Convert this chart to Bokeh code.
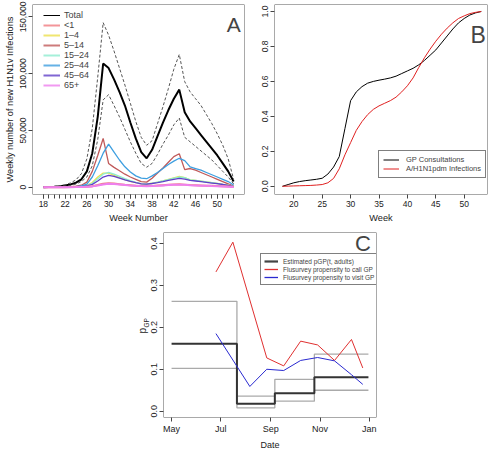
import math
import pandas as pd
from bokeh.plotting import figure
from bokeh.layouts import column, row, Spacer
from bokeh.models import (FixedTicker, NumeralTickFormatter, Legend, LegendItem, Label,
                          Range1d, DatetimeTickFormatter, BoxAnnotation, Title)
from bokeh.embed import file_html
from bokeh.resources import INLINE

FONT = "Liberation Sans"
NAN = float("nan")

# ---------------- Panel A data ----------------
weeks = list(range(18, 54))
total = [0, 200, 500, 900, 1500, 2500, 4000, 7000, 14000, 30000, 62000, 109000,
         105000, 95000, 84000, 72000, 57000, 43000, 31000, 25500, 33000, 45000,
         57000, 68000, 78000, 86000, 66000, 58000, 52000, 46000, 40000, 34000,
         28000, 21000, 14000, 5000]
upper = [0, 300, 700, 1300, 2200, 3800, 6500, 12000, 25000, 52000, 97000, 145000,
         134000, 120000, 105000, 90000, 74000, 58000, 44000, 37000, 41000, 56000,
         71000, 87000, 104000, 117000, 93000, 84000, 78000, 72000, 64000, 56000,
         47000, 37000, 25000, 7000]
lower = [0, 150, 350, 600, 1000, 1700, 2800, 5000, 9000, 19000, 42000, 77000,
         81500, 72000, 62000, 51000, 40000, 30000, 21000, 17600, 21000, 29000,
         38000, 46000, 55000, 61000, 44000, 40000, 36000, 32000, 28000, 24000,
         19000, 14000, 9000, 3000]
age_lt1 = [0, 10, 20, 40, 60, 100, 160, 250, 450, 900, 1900, 3000, 3600, 3200,
           2700, 2200, 1800, 1400, 1100, 1000, 1200, 1500, 1800, 2100, 2400, 2600,
           2300, 2000, 1800, 1600, 1400, 1200, 1000, 800, 550, 200]
age_1_4 = [0, 20, 40, 70, 120, 200, 350, 700, 1600, 4200, 9000, 12500, 12500, 10500,
           8500, 6800, 5200, 4000, 3000, 2800, 3500, 4500, 5600, 7000, 8300, 9500,
           8500, 6500, 6000, 5300, 4600, 4000, 3300, 2500, 1800, 600]
age_5_14 = [0, 50, 100, 200, 300, 500, 900, 1800, 4500, 14000, 28000, 43000, 21000,
            17500, 14500, 11500, 9000, 7000, 5000, 4500, 8000, 12500, 17000, 22000,
            27000, 29500, 15500, 16500, 15000, 13000, 11000, 9000, 7000, 5000, 3000, 1000]
age_15_24 = [0, 20, 40, 70, 120, 200, 350, 700, 1500, 3500, 7500, 11500, 13000, 11500,
             9500, 7500, 5800, 4300, 3200, 2800, 3500, 4500, 5500, 6800, 8000, 9000,
             8500, 6500, 6000, 5300, 4600, 4000, 3300, 2500, 1800, 600]
age_25_44 = [0, 30, 60, 100, 200, 350, 600, 1200, 2800, 9000, 19000, 30000, 38000,
             31000, 24000, 18000, 13500, 10000, 8000, 7500, 10000, 13000, 16500, 20000,
             23000, 25500, 23500, 18000, 16500, 15000, 13000, 11000, 9000, 7000, 5000, 2000]
age_45_64 = [0, 20, 40, 60, 100, 170, 300, 550, 1100, 2500, 5500, 9000, 10500, 9500,
             8000, 6500, 5200, 4000, 3000, 2700, 3300, 4100, 5000, 6000, 7000, 7800,
             7200, 6000, 5500, 4900, 4300, 3700, 3100, 2400, 1700, 600]
age_65 = [0, 10, 20, 30, 50, 80, 130, 200, 380, 750, 1500, 2500, 3000, 2800,
          2400, 2000, 1600, 1300, 1000, 900, 1100, 1300, 1600, 1900, 2100, 2300,
          2100, 1800, 1600, 1400, 1200, 1000, 850, 650, 450, 150]
age_labels = ["<1", "1–4", "5–14", "15–24", "25–44", "45–64", "65+"]
age_colors = ["#f07a80", "#ece04c", "#c05a5a", "#8eecd0", "#3e9fe0", "#6040c8", "#ee80ee"]
age_series = [age_lt1, age_1_4, age_5_14, age_15_24, age_25_44, age_45_64, age_65]
a_xticks = [18, 22, 26, 30, 34, 38, 42, 46, 50]
a_yticks = [0, 50000, 100000, 150000]

# ---------------- Panel B data ----------------
gp_cum = [0.0, 0.01, 0.02, 0.027, 0.032, 0.036, 0.04, 0.046, 0.07, 0.11, 0.17, 0.33,
          0.49, 0.54, 0.57, 0.59, 0.60, 0.607, 0.613, 0.62, 0.63, 0.645, 0.66, 0.675,
          0.695, 0.72, 0.75, 0.78, 0.82, 0.86, 0.90, 0.935, 0.96, 0.98, 0.992, 1.0]
inf_cum = [0.0, 0.001, 0.002, 0.003, 0.004, 0.005, 0.007, 0.01, 0.02, 0.045, 0.1, 0.18,
           0.25, 0.32, 0.37, 0.41, 0.44, 0.46, 0.475, 0.49, 0.51, 0.54, 0.575, 0.62,
           0.68, 0.735, 0.785, 0.83, 0.87, 0.905, 0.935, 0.96, 0.975, 0.988, 0.995, 1.0]
b_xticks = [20, 25, 30, 35, 40, 45, 50]
b_yticks = [0.0, 0.2, 0.4, 0.6, 0.8, 1.0]

# ---------------- Panel C data ----------------
step_dates = ["2009-05-01", "2009-07-21", "2009-09-06", "2009-10-25", "2009-12-31"]
pgp_est = [0.161, 0.018, 0.043, 0.081, 0.081]
pgp_upper = [0.262, 0.036, 0.076, 0.136, 0.136]
pgp_lower = [0.102, 0.008, 0.024, 0.050, 0.050]
call_dates = ["2009-06-25", "2009-07-16", "2009-08-27", "2009-09-17", "2009-10-08",
              "2009-10-29", "2009-11-19", "2009-12-10", "2009-12-24"]
call_gp = [0.332, 0.403, 0.127, 0.108, 0.167, 0.158, 0.121, 0.171, 0.103]
visit_dates = ["2009-06-25", "2009-07-16", "2009-08-06", "2009-08-27", "2009-09-17",
               "2009-10-08", "2009-10-29", "2009-11-19", "2009-12-10", "2009-12-24"]
visit_gp = [0.185, 0.122, 0.059, 0.100, 0.097, 0.121, 0.128, 0.120, 0.087, 0.064]
c_xticks = ["2009-05-01", "2009-07-01", "2009-09-01", "2009-11-01", "2010-01-01"]
c_yticks = [0.0, 0.1, 0.2, 0.3, 0.4]


def ms(s):
    return (pd.Timestamp(s) - pd.Timestamp("1970-01-01")).total_seconds() * 1000.0


def style(p, tick_size="8.5px", label_size="9.2px"):
    p.outline_line_color = None
    p.add_layout(BoxAnnotation(fill_alpha=0, line_color="#555555", line_width=1,
                               line_alpha=1))
    p.xgrid.visible = False
    p.ygrid.visible = False
    p.background_fill_color = "white"
    p.border_fill_color = "white"
    for ax in p.axis:
        ax.axis_line_color = None
        ax.major_tick_line_color = "#444444"
        ax.major_tick_out = 4
        ax.major_tick_in = 0
        ax.minor_tick_line_color = None
        ax.major_label_text_font = FONT
        ax.major_label_text_font_size = tick_size
        ax.major_label_text_color = "#222222"
        ax.axis_label_text_font = FONT
        ax.axis_label_text_font_size = label_size
        ax.axis_label_text_font_style = "normal"
        ax.axis_label_text_color = "#222222"
        ax.major_label_standoff = 2
        ax.axis_label_standoff = 3
    for ax in p.yaxis:
        ax.major_label_orientation = "vertical"


# ---------------- Panel A ----------------
pA = figure(width=258, height=226, output_backend="svg", toolbar_location=None,
            x_range=Range1d(16, 55), y_range=Range1d(-6400, 161000),
            min_border_left=32, min_border_right=14, min_border_top=4, min_border_bottom=32)
pA.line(weeks, total, line_color="black", line_width=2)
pA.line(weeks, upper, line_color="#555555", line_width=1, line_dash="3 2")
pA.line(weeks, lower, line_color="#555555", line_width=1, line_dash="3 2")
order = [2, 1, 3, 4, 5, 0, 6]
for i in order:
    w = 2 if i in (0, 6) else 1.3
    pA.line(weeks, age_series[i], line_color=age_colors[i], line_width=w)
# legend keys (renderers holding no visible data)
items = [LegendItem(label="Total",
                    renderers=[pA.line([NAN, NAN], [NAN, NAN], line_color="black",
                                       line_width=1)])]
for i in range(7):
    items.append(LegendItem(label=age_labels[i],
                            renderers=[pA.line([NAN, NAN], [NAN, NAN],
                                               line_color=age_colors[i],
                                               line_width=2, line_alpha=0.8)]))
style(pA)
pA.xaxis.ticker = FixedTicker(ticks=a_xticks, minor_ticks=weeks)
pA.xaxis.minor_tick_line_color = "#444444"
pA.xaxis.minor_tick_out = 4
pA.xaxis.minor_tick_in = 0
pA.yaxis.ticker = FixedTicker(ticks=a_yticks)
pA.yaxis.formatter = NumeralTickFormatter(format="0,0")
pA.xaxis.axis_label = "Week Number"
pA.yaxis.axis_label = "Weekly number of new H1N1v Infections"
legA = Legend(items=items, location=(11, 104), padding=0, margin=0, spacing=0,
              glyph_height=10, label_height=10, glyph_width=17, label_standoff=4,
              label_text_font=FONT, label_text_font_size="9px",
              border_line_alpha=0, background_fill_alpha=0)
pA.add_layout(legA)
pA.add_layout(Label(x=54.33, y=143000, text="A", text_align="right",
                    text_baseline="alphabetic", text_font=FONT, text_font_size="21px"))

# ---------------- Panel B ----------------
pB = figure(width=232, height=226, output_backend="svg", toolbar_location=None,
            x_range=Range1d(16.6, 54.1), y_range=Range1d(-0.047, 1.04),
            min_border_left=16, min_border_right=3, min_border_top=4, min_border_bottom=30)
rg = pB.line(weeks, gp_cum, line_color="black", line_width=1)
ri = pB.line(weeks, inf_cum, line_color="#e02020", line_width=1)
style(pB)
pB.xaxis.ticker = FixedTicker(ticks=b_xticks)
pB.yaxis.ticker = FixedTicker(ticks=b_yticks)
pB.yaxis.formatter = NumeralTickFormatter(format="0.0")
pB.xaxis.axis_label = "Week"
legB = Legend(items=[LegendItem(label="GP Consultations", renderers=[rg]),
                     LegendItem(label="A/H1N1pdm Infections", renderers=[ri])],
              location=(104, 16), padding=4, margin=0, spacing=0,
              glyph_height=9, label_height=9, glyph_width=16, label_standoff=7,
              label_text_font=FONT, label_text_font_size="7.5px",
              border_line_color="black", border_line_width=1, background_fill_alpha=1)
pB.add_layout(legB)
pB.add_layout(Label(x=53.8, y=0.864, text="B", text_align="right",
                    text_baseline="alphabetic", text_font=FONT, text_font_size="23px"))

# ---------------- Panel C ----------------
pC = figure(width=260, height=226, output_backend="svg", toolbar_location=None,
            x_axis_type="datetime",
            x_range=Range1d(ms("2009-04-21"), ms("2010-01-10")),
            y_range=Range1d(-0.015, 0.426),
            min_border_left=43, min_border_right=4, min_border_top=6, min_border_bottom=30)
sd = [pd.Timestamp(d) for d in step_dates]
pC.step(sd, pgp_upper, mode="after", line_color="#aaaaaa", line_width=1.3)
pC.step(sd, pgp_lower, mode="after", line_color="#aaaaaa", line_width=1.3)
pC.step(sd, pgp_est, mode="after", line_color="#333333", line_width=2)
pC.line([pd.Timestamp(d) for d in call_dates], call_gp, line_color="#e03030", line_width=1)
pC.line([pd.Timestamp(d) for d in visit_dates], visit_gp, line_color="#2a2ad0", line_width=1)
kE = pC.line([NAN, NAN], [NAN, NAN], line_color="#444444", line_width=2.2)
kC = pC.line([NAN, NAN], [NAN, NAN], line_color="#e03030", line_width=1.3)
kV = pC.line([NAN, NAN], [NAN, NAN], line_color="#2a2ad0", line_width=1.3)
style(pC, tick_size="9px", label_size="9px")
pC.xaxis.ticker = FixedTicker(ticks=[ms(d) for d in c_xticks])
pC.xaxis.formatter = DatetimeTickFormatter(days="%b", months="%b", years="%b",
                                           hours="%b", hourmin="%b", minutes="%b")
pC.yaxis.ticker = FixedTicker(ticks=c_yticks)
pC.yaxis.formatter = NumeralTickFormatter(format="0.0")
pC.xaxis.axis_label = "Date"
legC = Legend(items=[LegendItem(label="Estimated pGP(t, adults)", renderers=[kE]),
                     LegendItem(label="Flusurvey propensity to call GP", renderers=[kC]),
                     LegendItem(label="Flusurvey propensity to visit GP", renderers=[kV])],
              location=(97, 132), padding=3, margin=0, spacing=0,
              glyph_height=8, label_height=8, glyph_width=14, label_standoff=5,
              label_text_font=FONT, label_text_font_size="6.5px",
              border_line_color="black", border_line_width=1, background_fill_alpha=1)
pC.add_layout(legC)
pC.add_layout(Label(x=ms("2010-01-03"), y=0.400, text="C", text_align="right",
                    text_baseline="alphabetic", text_font=FONT, text_font_size="22px"))
pC.add_layout(Title(text="GP", align="left", offset=90, standoff=-2,
                    text_font=FONT, text_font_size="6.5px", text_font_style="normal",
                    text_color="#222222"), "left")
pC.add_layout(Title(text="p", align="left", offset=84, standoff=-12,
                    text_font=FONT, text_font_size="10px", text_font_style="normal",
                    text_color="#222222"), "left")

root = column(row(pA, pB), row(Spacer(width=120, height=226), pC))
open("out.html", "w").write(file_html(root, INLINE))
